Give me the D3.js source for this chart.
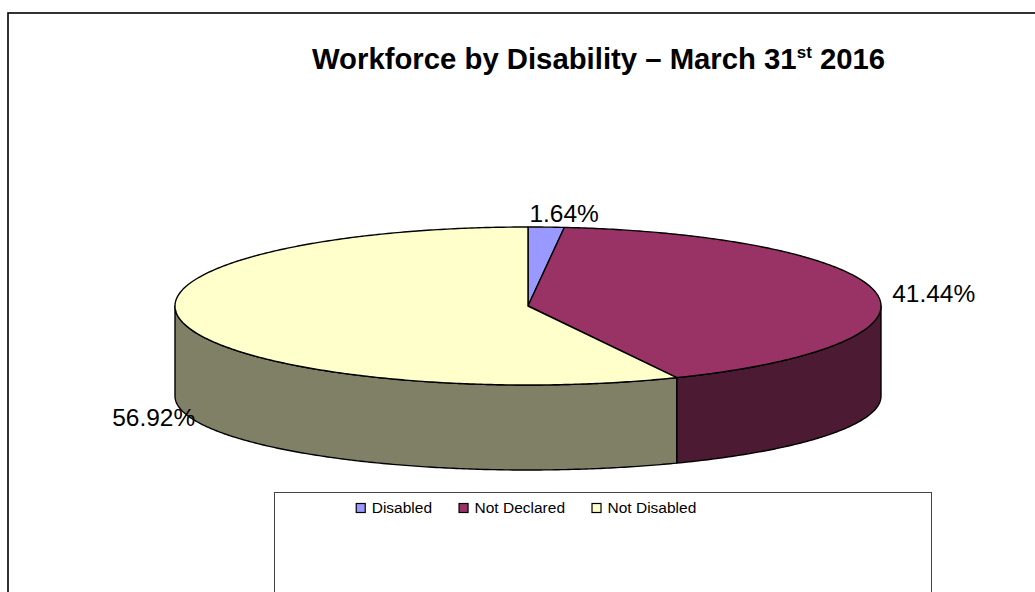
<!DOCTYPE html>
<html>
<head>
<meta charset="utf-8">
<script src="https://cdn.jsdelivr.net/npm/d3@7"></script>
<style>
  html, body { margin: 0; padding: 0; background: #fff; }
  svg { display: block; font-family: "Liberation Sans", Arial, sans-serif; }
</style>
</head>
<body>
<svg id="chart" width="1035" height="592"></svg>
<script>
// Workforce split by disability status (percent of headcount)
const categories = ["Disabled", "Not Declared", "Not Disabled"];
const shares = [1.64, 41.44, 56.92];
const labels = ["1.64%", "41.44%", "56.92%"];
const colours = ["#9999FF", "#993366", "#FFFFCC"];

const svg = d3.select("#chart");
const W = 1035, H = 592;

// chart frame (continues past the right and bottom edges of the page)
svg.append("rect")
  .attr("x", 8).attr("y", 13)
  .attr("width", W + 40).attr("height", H + 40)
  .attr("fill", "#fff").attr("stroke", "#000").attr("stroke-width", 1.6);

// title with superscript ordinal
const title = svg.append("text")
  .attr("x", 312).attr("y", 69)
  .attr("font-size", 29.3).attr("font-weight", "bold").attr("fill", "#000");
title.append("tspan").text("Workforce by Disability \u2013 March 31");
title.append("tspan").text("st").attr("font-size", 17).attr("dy", -11);
title.append("tspan").text(" 2016").attr("dy", 11);

// 3-D pie geometry: top ellipse plus a slightly flatter base ellipse
const cx = 528, rx = 353;
const topCy = 306, topRy = 79;
const baseCy = 396, baseRy = 74;

const pie = d3.pie().sort(null).value(d => d)(shares);

const pt = (t, cy, ry) => [cx + rx * Math.sin(t), cy - ry * Math.cos(t)];
const arcPts = (a0, a1, cy, ry) => {
  const n = Math.max(2, Math.ceil((a1 - a0) / 0.01));
  return d3.range(n + 1).map(i => pt(a0 + (a1 - a0) * i / n, cy, ry));
};
const closed = d3.line().curve(d3.curveLinearClosed);
const shade = c => d3.interpolateRgb(c, "#000")(0.5);

const g = svg.append("g")
  .attr("stroke", "#000").attr("stroke-width", 1.4).attr("stroke-linejoin", "round");

// outer walls on the visible (front) half of the pie
pie.forEach((d, i) => {
  const s = Math.max(d.startAngle, Math.PI / 2);
  const e = Math.min(d.endAngle, 3 * Math.PI / 2);
  if (s >= e) return;
  const pts = arcPts(s, e, topCy, topRy).concat(arcPts(s, e, baseCy, baseRy).reverse());
  g.append("path").attr("d", closed(pts)).attr("fill", shade(colours[i]));
});

// top faces
pie.forEach((d, i) => {
  const pts = [[cx, topCy]].concat(arcPts(d.startAngle, d.endAngle, topCy, topRy));
  g.append("path").attr("d", closed(pts)).attr("fill", colours[i]);
});

// value labels placed outside each slice
pie.forEach((d, i) => {
  const mid = (d.startAngle + d.endAngle) / 2;
  const front = Math.cos(mid) < 0;
  const [px, py] = front ? pt(mid, baseCy, baseRy) : pt(mid, topCy, topRy);
  const s = Math.sin(mid);
  let anchor, x, y;
  if (s > 0.3) { anchor = "start"; x = px + 16; y = py + 9; }
  else if (s < -0.3) { anchor = "end"; x = px + 12; y = py + 14; }
  else { anchor = "middle"; x = px + 18; y = py - 5; }
  svg.append("text")
    .attr("x", x).attr("y", y)
    .attr("text-anchor", anchor)
    .attr("font-size", 24.5).attr("fill", "#000")
    .text(labels[i]);
});

// legend box (runs past the bottom of the page)
svg.append("rect")
  .attr("x", 274.5).attr("y", 492.5)
  .attr("width", 657).attr("height", 200)
  .attr("fill", "#fff").attr("stroke", "#444").attr("stroke-width", 1);

const legend = svg.append("g");
const items = legend.selectAll("g").data(categories).join("g");
items.append("rect")
  .attr("width", 9).attr("height", 9)
  .attr("y", 503.5)
  .attr("fill", (d, i) => colours[i])
  .attr("stroke", "#000").attr("stroke-width", 1.2);
items.append("text")
  .attr("x", 16).attr("y", 513)
  .attr("font-size", 15.5).attr("fill", "#000")
  .text(d => d);

// lay the entries out in a row centred under the pie
const gap = 26.5;
const widths = items.nodes().map(n => 16 + n.querySelector("text").getComputedTextLength());
const total = d3.sum(widths) + gap * (widths.length - 1);
let xPos = cx - 2 - total / 2;
items.each(function (d, i) {
  d3.select(this).select("rect").attr("x", xPos + 0.5);
  d3.select(this).select("text").attr("x", xPos + 16);
  xPos += widths[i] + gap;
});
</script>
</body>
</html>
